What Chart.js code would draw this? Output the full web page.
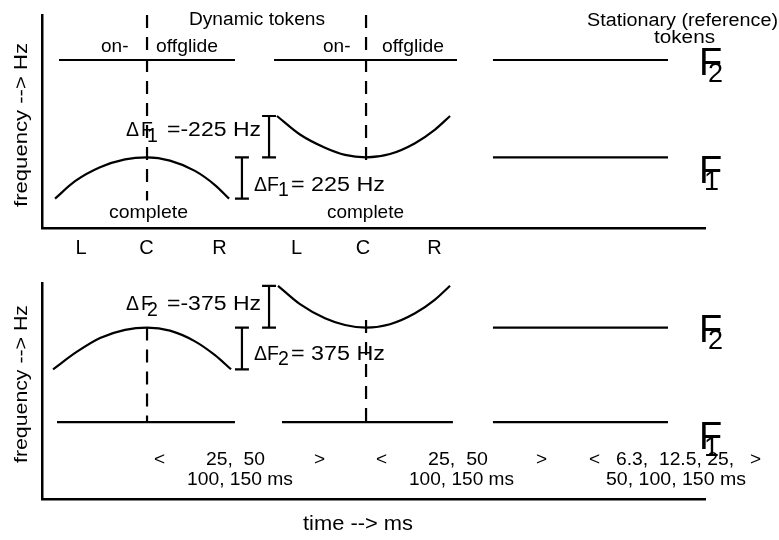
<!DOCTYPE html>
<html>
<head>
<meta charset="utf-8">
<script src="https://cdn.jsdelivr.net/npm/chart.js@4.4.1/dist/chart.umd.min.js"></script>
<style>
  html, body { margin: 0; padding: 0; background: #fff; }
  #wrap { position: relative; width: 779px; height: 540px; overflow: hidden; }
  #wrap canvas { position: absolute; left: 0; }
  #upper { top: 0; }
  #lower { top: 262px; }
</style>
</head>
<body>
<div id="wrap">
  <canvas id="upper" width="779" height="262"></canvas>
  <canvas id="lower" width="779" height="278"></canvas>
</div>
<script>
// ── Data: time in ms, frequency in Hz ─────────────────────────
const timeRange = [0, 570];
const tokenTicks = [33.5, 89.8, 152.6, 218.8, 276, 337.4];
const tokenTickLabels = ["L", "C", "R", "L", "C", "R"];
const centerTimes = [90.3, 278.6];
const bracketTimes = [171.9, 195.2];
const stationarySpan = [387.7, 538.2];

// upper panel: F1 moves, F2 stays flat
const upperRange = [115, 1275];
const f1Target = 500;
const dF1 = 225;
const f2Upper = 1030;
const f2SpansUpper = [[14.6, 165.9], [199.5, 356.8]];
const archTimeUpper = [11.2, 28.4, 49.9, 71.4, 90.3, 110, 131.5, 148.7, 160.8];
const archF1 = [275, 370, 446, 489, 500, 482, 426, 349, 275];
const dipTimeUpper = [202, 221.8, 243.3, 260.5, 278.6, 299.2, 320.7, 337.9, 350.8];
const dipF1 = [725, 624, 552, 513, 500, 518, 577, 651, 725];
const guideUpper = [[1275, 265], [1275, 450]];

// lower panel: F2 moves, F1 stays flat
const lowerRange = [60, 2000];
const f2Target = 1600;
const dF2 = 375;
const f1Lower = 750;
const f1SpansLower = [[12.9, 165.9], [206.3, 353.3]];
const archTimeLower = [9.5, 30.1, 49.9, 71.4, 90.3, 110, 131.5, 148.7, 162.5];
const archF2 = [1225, 1383, 1506, 1579, 1600, 1572, 1476, 1352, 1225];
const dipTimeLower = [202.9, 221.8, 243.3, 260.5, 278.6, 299.2, 320.7, 337.9, 350.8];
const dipF2 = [1975, 1810, 1683, 1623, 1600, 1630, 1728, 1851, 1975];
const guideLower = [[1600, 750], [1668, 750]];

// ── Helpers ───────────────────────────────────────────────────
const ink = "#000";
const FONT = '"Liberation Sans", Arial, Helvetica, sans-serif';

function flat(spans, y) {
    const pts = [];
    spans.forEach(([a, b], i) => {
        if (i) pts.push({ x: a, y: null });
        pts.push({ x: a, y }, { x: b, y });
    });
    return pts;
}
function curve(times, values) {
    return times.map((t, i) => ({ x: t, y: values[i] }));
}
function bracket(t, lo, hi) {
    const w = 6;
    return [
        { x: t - w, y: lo }, { x: t + w, y: lo }, { x: t, y: null },
        { x: t, y: lo }, { x: t, y: hi }, { x: t, y: null },
        { x: t - w, y: hi }, { x: t + w, y: hi },
    ];
}
function ds(data, extra) {
    return Object.assign({ data, borderColor: ink, borderWidth: 2.2, pointRadius: 0, fill: false, clip: false }, extra);
}
const smooth = { cubicInterpolationMode: "monotone" };
const dashed = { borderDash: [13, 9] };

// text is given in page pixels: left x, baseline y; w stretches it to a width
const textLayer = {
    id: "textLayer",
    afterDraw(chart, args, opts) {
        const ctx = chart.ctx;
        (opts.items || []).forEach((it) => {
            ctx.save();
            ctx.font = `${it.size}px ${FONT}`;
            ctx.fillStyle = ink;
            ctx.textAlign = "left";
            ctx.textBaseline = "alphabetic";
            ctx.translate(it.x, it.y - opts.top);
            if (it.rot) ctx.rotate(it.rot);
            if (it.w) ctx.scale(it.w / ctx.measureText(it.t).width, 1);
            ctx.fillText(it.t, 0, 0);
            ctx.restore();
        });
    },
};

function panel(id, cfg) {
    return new Chart(document.getElementById(id), {
        type: "line",
        data: { datasets: cfg.datasets },
        options: {
            responsive: false,
            animation: false,
            events: [],
            layout: { padding: { left: 42, right: 74, top: cfg.padTop, bottom: 0 } },
            plugins: {
                legend: { display: false },
                tooltip: { enabled: false },
                textLayer: { top: cfg.top, items: cfg.labels },
            },
            scales: {
                x: {
                    type: "linear",
                    min: timeRange[0],
                    max: timeRange[1],
                    grid: { display: false, drawTicks: false },
                    border: { color: ink, width: 2.5 },
                    ticks: {
                        display: cfg.showTicks,
                        autoSkip: false,
                        maxRotation: 0,
                        padding: 8,
                        color: ink,
                        font: { family: FONT, size: 20 },
                        callback: (v, i) => tokenTickLabels[i],
                    },
                    afterBuildTicks: (s) => { s.ticks = tokenTicks.map((v) => ({ value: v })); },
                    afterFit: (s) => { s.height = cfg.axisHeight; },
                },
                y: {
                    type: "linear",
                    min: cfg.range[0],
                    max: cfg.range[1],
                    grid: { display: false, drawTicks: false },
                    border: { color: ink, width: 2.5 },
                    ticks: { display: false },
                    afterFit: (s) => { s.width = 0; },
                },
            },
        },
        plugins: [textLayer],
    });
}

function formant(n, x, y) {
    return [
        { t: "F", x: x, y: y, size: 38 },
        { t: n, x: x + (n === "1" ? 5 : 9), y: y + 7, size: 27 },
    ];
}
function delta(n, x, y, rest, w) {
    return [
        { t: "\u0394", x: x, y: y, size: 19.5 },
        { t: "F", x: x + 15, y: y, size: 19.5 },
        { t: n, x: x + 21, y: y + 6, size: 19.5 },
        { t: rest, x: x + 41, y: y, size: 19.5, w: w },
    ];
}
function deltaPlain(n, x, y, rest, w) {
    return [
        { t: "\u0394F", x: x, y: y, size: 19.5 },
        { t: n, x: x + 24, y: y + 5, size: 19.5 },
        { t: rest, x: x + 37, y: y, size: 19.5, w: w },
    ];
}

// ── Upper panel: F1 transitions ───────────────────────────────
panel("upper", {
    top: 0,
    padTop: 15,
    axisHeight: 34,
    showTicks: true,
    range: upperRange,
    datasets: [
        ds(flat(f2SpansUpper.concat([stationarySpan]), f2Upper)),
        ds(flat([stationarySpan], f1Target)),
        ds(curve(archTimeUpper, archF1), smooth),
        ds(curve(dipTimeUpper, dipF1), smooth),
        ds([{ x: centerTimes[0], y: guideUpper[0][0] }, { x: centerTimes[0], y: guideUpper[0][1] }], dashed),
        ds([{ x: centerTimes[1], y: guideUpper[1][0] }, { x: centerTimes[1], y: guideUpper[1][1] }], dashed),
        ds(bracket(bracketTimes[1], f1Target, f1Target + dF1)),
        ds(bracket(bracketTimes[0], f1Target - dF1, f1Target)),
    ],
    labels: [
        { t: "Dynamic tokens", x: 189, y: 25, size: 18, w: 136 },
        { t: "Stationary (reference)", x: 587, y: 26, size: 18, w: 191 },
        { t: "tokens", x: 654, y: 43, size: 18, w: 61 },
        { t: "on-", x: 101, y: 52, size: 19 },
        { t: "offglide", x: 156, y: 52, size: 19, w: 62 },
        { t: "on-", x: 323, y: 52, size: 19 },
        { t: "offglide", x: 382, y: 52, size: 19, w: 62 },
        { t: "complete", x: 109, y: 218, size: 19, w: 79 },
        { t: "complete", x: 327, y: 218, size: 19, w: 77 },
        ...delta("1", 126, 136, "=-225 Hz", 94),
        ...deltaPlain("1", 254, 191, "= 225 Hz", 94),
        ...formant("2", 699, 75),
        ...formant("1", 699, 183),
        { t: "frequency --> Hz", x: 27, y: 207, size: 19, w: 164, rot: -Math.PI / 2 },
    ],
});

// ── Lower panel: F2 transitions ───────────────────────────────
panel("lower", {
    top: 262,
    padTop: 21,
    axisHeight: 41,
    showTicks: false,
    range: lowerRange,
    datasets: [
        ds(flat(f1SpansLower.concat([stationarySpan]), f1Lower)),
        ds(flat([stationarySpan], f2Target)),
        ds(curve(archTimeLower, archF2), smooth),
        ds(curve(dipTimeLower, dipF2), smooth),
        ds([{ x: centerTimes[0], y: guideLower[0][0] }, { x: centerTimes[0], y: guideLower[0][1] }], dashed),
        ds([{ x: centerTimes[1], y: guideLower[1][0] }, { x: centerTimes[1], y: guideLower[1][1] }], dashed),
        ds(bracket(bracketTimes[1], f2Target, f2Target + dF2)),
        ds(bracket(bracketTimes[0], f2Target - dF2, f2Target)),
    ],
    labels: [
        ...delta("2", 126, 310, "=-375 Hz", 94),
        ...deltaPlain("2", 254, 360, "= 375 Hz", 94),
        ...formant("2", 699, 342),
        ...formant("1", 699, 449),
        { t: "<", x: 154, y: 465, size: 19 },
        { t: "25,  50", x: 206, y: 465, size: 19, w: 59 },
        { t: ">", x: 314, y: 465, size: 19 },
        { t: "<", x: 376, y: 465, size: 19 },
        { t: "25,  50", x: 428, y: 465, size: 19, w: 60 },
        { t: ">", x: 536, y: 465, size: 19 },
        { t: "<", x: 589, y: 465, size: 19 },
        { t: "6.3,  12.5, 25,", x: 616, y: 465, size: 19, w: 118 },
        { t: ">", x: 750, y: 465, size: 19 },
        { t: "100, 150 ms", x: 187, y: 485, size: 19, w: 106 },
        { t: "100, 150 ms", x: 409, y: 485, size: 19, w: 105 },
        { t: "50, 100, 150 ms", x: 606, y: 485, size: 19, w: 140 },
        { t: "time --> ms", x: 303, y: 530, size: 20, w: 110 },
        { t: "frequency --> Hz", x: 27, y: 463, size: 19, w: 158, rot: -Math.PI / 2 },
    ],
});
</script>
</body>
</html>
